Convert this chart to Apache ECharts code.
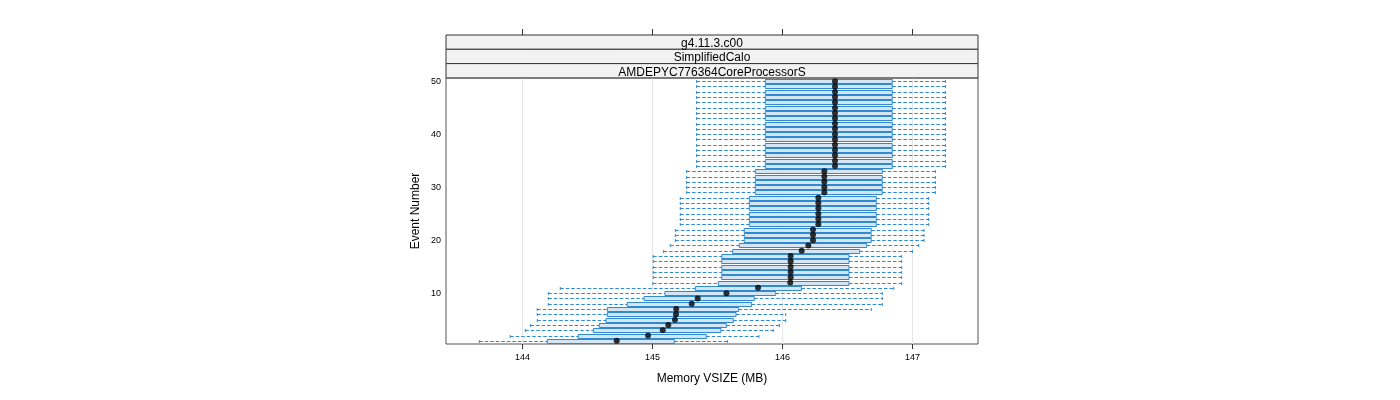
<!DOCTYPE html>
<html>
<head>
<meta charset="utf-8">
<script src="https://cdn.jsdelivr.net/npm/echarts@6/dist/echarts.min.js"></script>
<style>
html,body{margin:0;padding:0;background:#fff;}
#chart{width:1400px;height:400px;}
</style>
</head>
<body>
<div id="chart"></div>
<script>
// ---- data ----
const events = [1,2,3,4,5,6,7,8,9,10,11,12,13,14,15,16,17,18,19,20,21,22,23,24,25,26,27,28,29,30,31,32,33,34,35,36,37,38,39,40,41,42,43,44,45,46,47,48,49,50];
const whiskerLow = [143.667,143.905,144.021,144.062,144.113,144.113,144.113,144.198,144.198,144.198,144.290,
  145.003,145.005,145.005,145.005,145.005,145.005,145.085,145.136,145.175,145.175,145.175,
  145.213,145.213,145.213,145.213,145.213,145.213,145.262,145.262,145.262,145.262,145.262,
  145.339,145.339,145.339,145.339,145.339,145.339,145.339,145.339,145.339,145.339,145.339,145.339,145.339,145.339,145.339,145.339,145.339];
const q1 = [144.190,144.428,144.544,144.590,144.642,144.652,144.652,144.805,144.934,145.095,145.328,
  145.505,145.532,145.532,145.532,145.532,145.532,145.616,145.667,145.705,145.705,145.705,
  145.744,145.744,145.744,145.744,145.744,145.744,145.790,145.790,145.790,145.790,145.790,
  145.867,145.867,145.867,145.867,145.867,145.867,145.867,145.867,145.867,145.867,145.867,145.867,145.867,145.867,145.867,145.867,145.867];
const median = [144.724,144.965,145.078,145.121,145.172,145.180,145.182,145.301,145.347,145.568,145.811,
  146.059,146.062,146.062,146.062,146.062,146.062,146.147,146.198,146.234,146.234,146.234,
  146.275,146.275,146.275,146.275,146.275,146.275,146.321,146.321,146.321,146.321,146.321,
  146.403,146.403,146.403,146.403,146.403,146.403,146.403,146.403,146.403,146.403,146.403,146.403,146.403,146.403,146.403,146.403,146.403];
const q3 = [145.167,145.413,145.526,145.567,145.621,145.642,145.662,145.762,145.782,145.947,146.145,
  146.511,146.511,146.511,146.511,146.511,146.511,146.593,146.647,146.682,146.682,146.682,
  146.721,146.721,146.721,146.721,146.721,146.721,146.767,146.767,146.767,146.767,146.767,
  146.844,146.844,146.844,146.844,146.844,146.844,146.844,146.844,146.844,146.844,146.844,146.844,146.844,146.844,146.844,146.844,146.844];
const whiskerHigh = [145.575,145.818,145.928,145.975,146.024,146.024,146.682,146.767,146.767,146.767,146.855,
  146.916,146.916,146.916,146.916,146.916,146.916,146.998,147.047,147.088,147.088,147.088,
  147.124,147.124,147.124,147.124,147.124,147.124,147.175,147.175,147.175,147.175,147.175,
  147.252,147.252,147.252,147.252,147.252,147.252,147.252,147.252,147.252,147.252,147.252,147.252,147.252,147.252,147.252,147.252,147.252];
const xTicks = [144,145,146,147];
const yTicks = [10,20,30,40,50];
const strips = ['g4.11.3.c00','SimplifiedCalo','AMDEPYC776364CoreProcessorS'];
const xLabel = 'Memory VSIZE (MB)';
const yLabel = 'Event Number';

// ---- build ----
const boxData = events.map((e,i)=>[e, whiskerLow[i], q1[i], median[i], q3[i], whiskerHigh[i]]);
const medData = events.map((e,i)=>[median[i], e]);

const FONT = 'Liberation Sans, Arial, sans-serif';
const BLUE = '#2f8ad0';
const G = {left:446, top:78, width:532, height:266};

const chart = echarts.init(document.getElementById('chart'));

const stripH = 14.3;
const stripTop = 35;
const graphics = [];
strips.forEach((s,i)=>{
  graphics.push({type:'rect', shape:{x:G.left, y:stripTop+i*stripH, width:G.width, height:stripH},
    style:{fill:'#f2f2f2', stroke:'#333', lineWidth:1}, z:10});
  graphics.push({type:'text', x:G.left+G.width/2, y:stripTop+i*stripH+stripH/2+1.5,
    style:{text:s, fill:'#000', font:'12px '+FONT, align:'center', verticalAlign:'middle'}, z:11});
});

function renderBox(params, api){
  const y = api.value(0);
  const pl = api.coord([api.value(1), y]);
  const p1 = api.coord([api.value(2), y]);
  const p3 = api.coord([api.value(4), y]);
  const ph = api.coord([api.value(5), y]);
  const cy = Math.round(pl[1]) + 0.5;
  const h = 4;
  const dash = {stroke:BLUE, lineWidth:1, lineDash:[3.5,2]};
  return {type:'group', children:[
    {type:'line', shape:{x1:pl[0], y1:cy, x2:p1[0], y2:cy}, style:dash},
    {type:'line', shape:{x1:p3[0], y1:cy, x2:ph[0], y2:cy}, style:dash},
    {type:'line', shape:{x1:pl[0], y1:cy-1.5, x2:pl[0], y2:cy+1.5}, style:{stroke:BLUE, lineWidth:1}},
    {type:'line', shape:{x1:ph[0], y1:cy-1.5, x2:ph[0], y2:cy+1.5}, style:{stroke:BLUE, lineWidth:1}},
    {type:'rect', shape:{x:p1[0], y:cy-h/2, width:p3[0]-p1[0], height:h},
      style:{fill:'#d4e6f5', stroke:BLUE, lineWidth:1}}
  ]};
}

chart.setOption({
  animation:false,
  backgroundColor:'#fff',
  textStyle:{fontFamily:FONT},
  grid:{left:G.left, top:G.top, width:G.width, height:G.height, show:true,
    borderColor:'#555', borderWidth:1, backgroundColor:'transparent', containLabel:false},
  xAxis:[{
    type:'value', min:143.411, max:147.503, position:'bottom',
    name:xLabel, nameLocation:'middle', nameGap:29,
    nameTextStyle:{fontSize:12, color:'#000', fontFamily:FONT},
    axisLine:{show:false},
    axisTick:{show:true, length:5, customValues:xTicks, lineStyle:{color:'#333'}},
    axisLabel:{customValues:xTicks, fontSize:9, color:'#000', margin:9, fontFamily:FONT},
    splitLine:{show:false}
  },{
    type:'value', min:143.411, max:147.503, position:'top', offset:43,
    axisLine:{show:false},
    axisTick:{show:true, length:6, customValues:xTicks, lineStyle:{color:'#333'}},
    axisLabel:{show:false},
    splitLine:{show:false}
  }],
  yAxis:{
    type:'value', min:0.4, max:50.6,
    name:yLabel, nameLocation:'middle', nameGap:24,
    nameTextStyle:{fontSize:12, color:'#000', fontFamily:FONT},
    axisLine:{show:false},
    axisTick:{show:false},
    axisLabel:{customValues:yTicks, fontSize:9, color:'#000', margin:5, fontFamily:FONT},
    splitLine:{show:false}
  },
  graphic:graphics,
  series:[{
    type:'scatter', data:[], xAxisIndex:0, silent:true, z:1,
    markLine:{silent:true, z:1, symbol:'none', label:{show:false},
      lineStyle:{color:'#e6e6e6', type:'solid', width:1},
      data:xTicks.map(v=>({xAxis:v}))}
  },{
    type:'custom', xAxisIndex:0, renderItem:renderBox, data:boxData,
    encode:{x:[1,2,3,4,5], y:0}, z:3, silent:true
  },{
    type:'scatter', xAxisIndex:0, data:medData, symbol:'circle', symbolSize:6,
    itemStyle:{color:'#000'}, z:5, silent:true
  }]
});
</script>
</body>
</html>
